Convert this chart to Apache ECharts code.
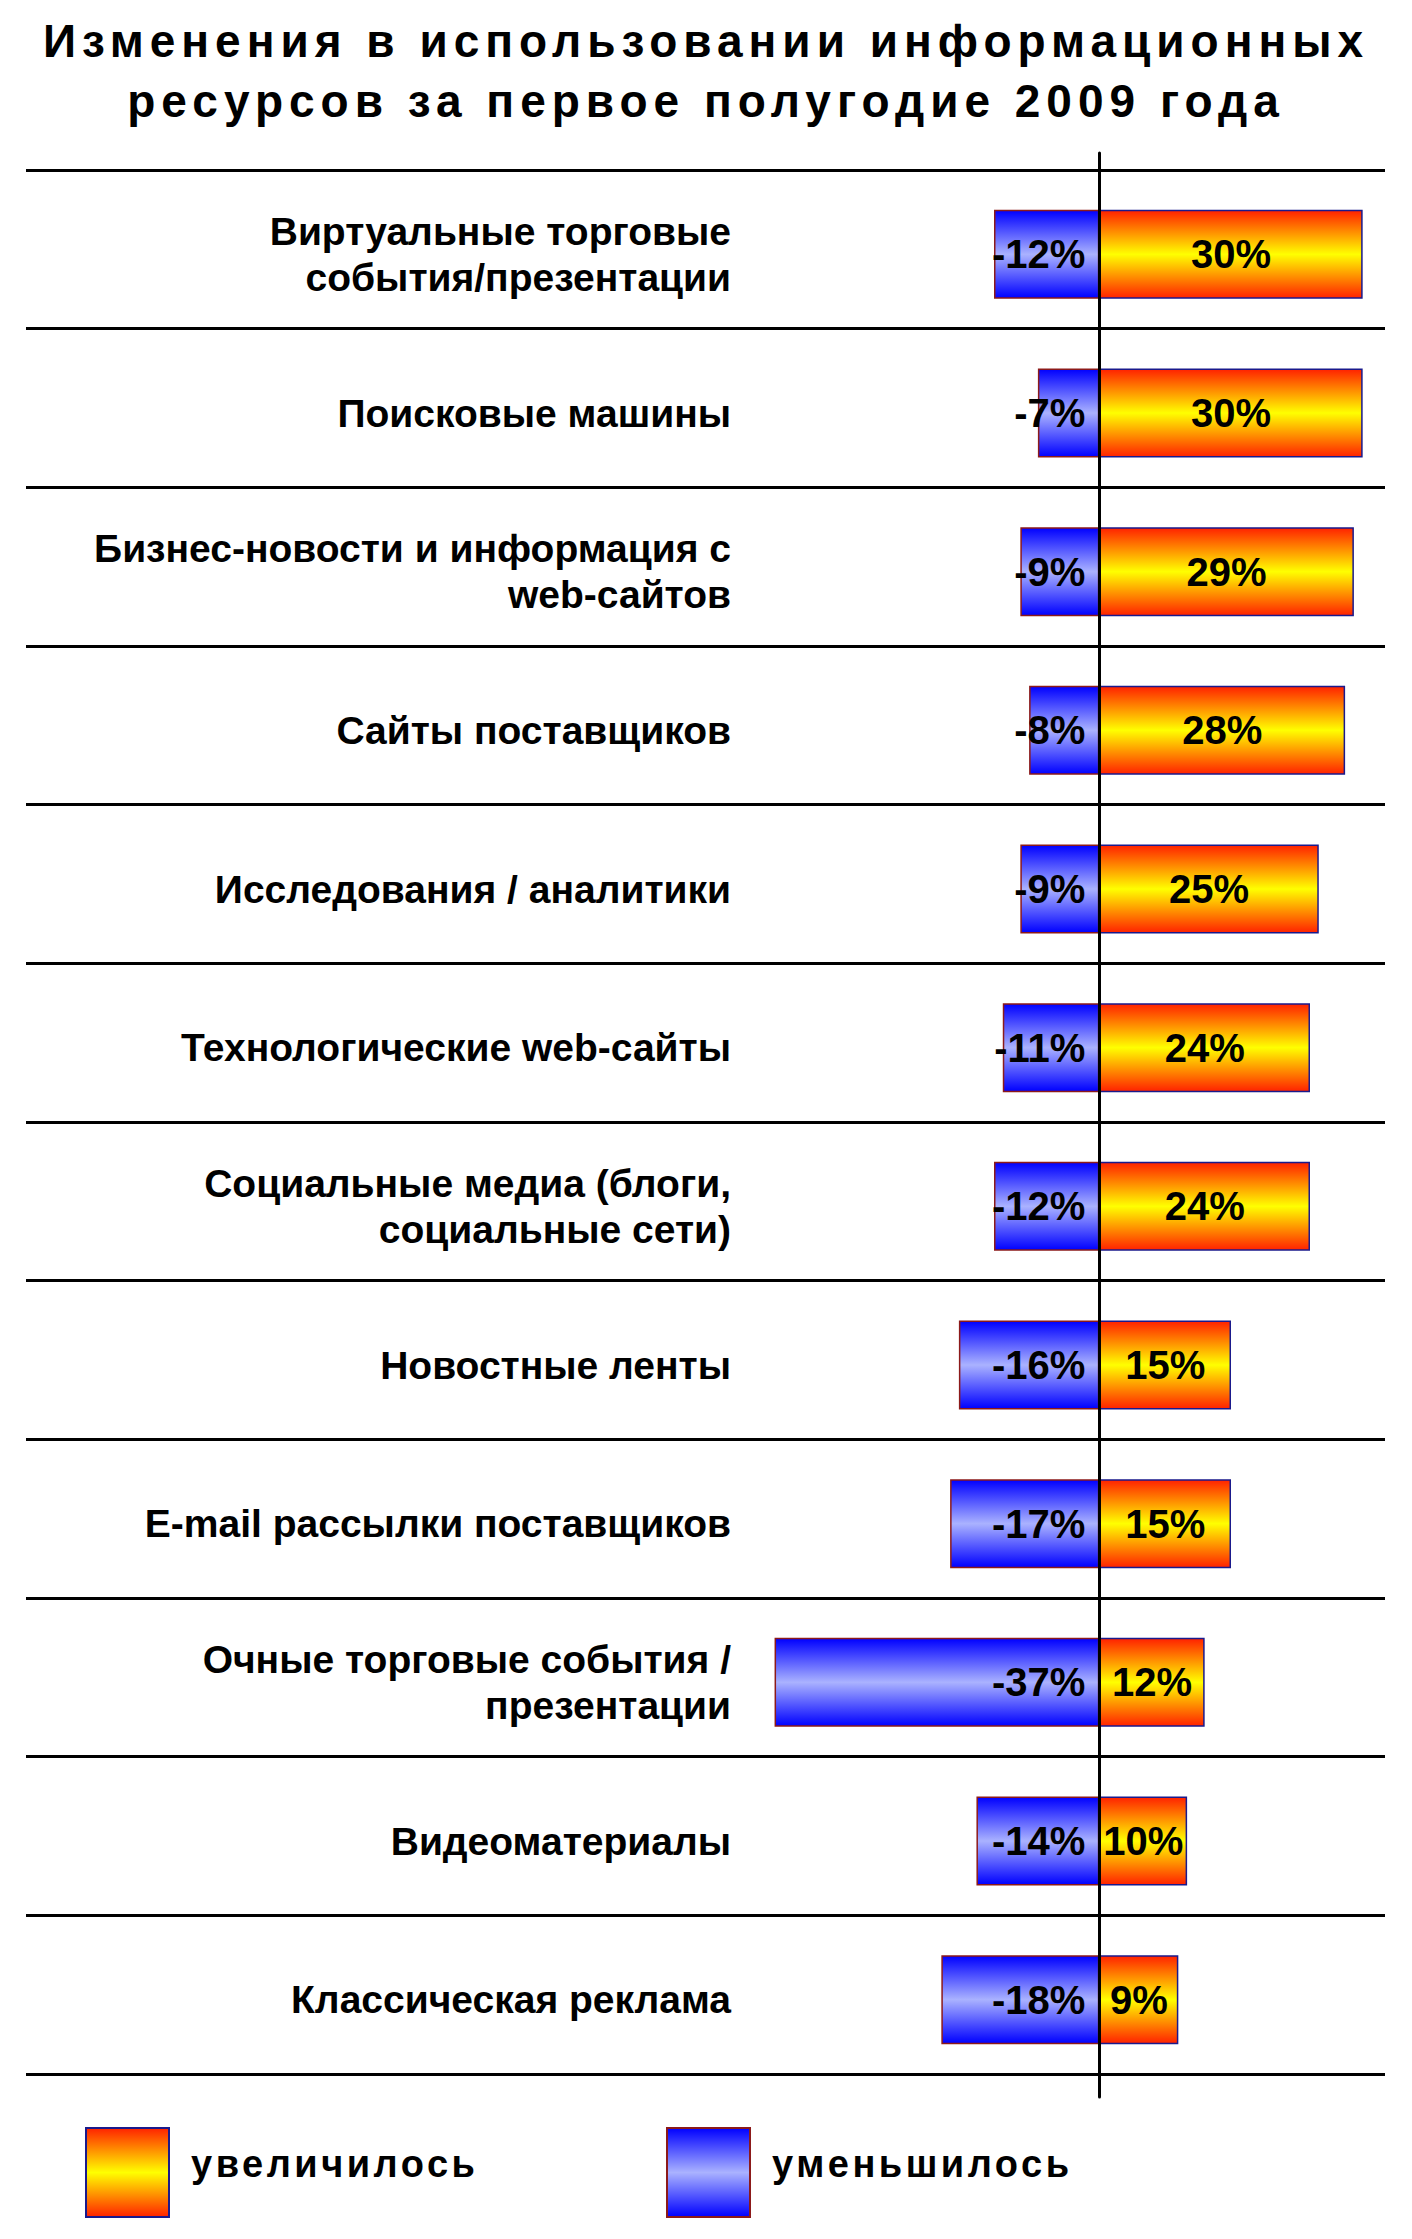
<!DOCTYPE html>
<html>
<head>
<meta charset="utf-8">
<script src="https://cdn.jsdelivr.net/npm/echarts@6/dist/echarts.min.js"></script>
<style>
html,body{margin:0;padding:0;background:#fff;}
#chart{width:1412px;height:2239px;}
</style>
</head>
<body>
<div id="chart"></div>
<script>
// ---- data ----
const titleText = 'Изменения в использовании информационных\nресурсов за первое полугодие 2009 года';
const categories = [
  'Виртуальные торговые\nсобытия/презентации',
  'Поисковые машины',
  'Бизнес-новости и информация с\nweb-сайтов',
  'Сайты поставщиков',
  'Исследования / аналитики',
  'Технологические web-сайты',
  'Социальные медиа (блоги,\nсоциальные сети)',
  'Новостные ленты',
  'E-mail рассылки поставщиков',
  'Очные торговые события /\nпрезентации',
  'Видеоматериалы',
  'Классическая реклама'
];
const increased = [30, 30, 29, 28, 25, 24, 24, 15, 15, 12, 10, 9];
const decreased = [-12, -7, -9, -8, -9, -11, -12, -16, -17, -37, -14, -18];
const seriesNames = ['увеличилось', 'уменьшилось'];

// ---- styling ----
const FONT = '"Liberation Sans", Arial, sans-serif';
const orangeGrad = new echarts.graphic.LinearGradient(0, 0, 0, 1, [
  {offset: 0, color: '#ff2200'},
  {offset: 0.5, color: '#ffff00'},
  {offset: 1, color: '#ff2200'}
]);
const blueGrad = new echarts.graphic.LinearGradient(0, 0, 0, 1, [
  {offset: 0, color: '#0000ff'},
  {offset: 0.5, color: '#aab2ff'},
  {offset: 1, color: '#0000ff'}
]);

const chart = echarts.init(document.getElementById('chart'), null, {renderer: 'svg'});

const gridTop = 170, gridH = 1904;
const legendText = {
  fontFamily: FONT, fontSize: 38, fontWeight: 'bold', color: '#000',
  rich: {a: {fontFamily: FONT, fontSize: 38, fontWeight: 'bold', color: '#000', padding: [0, 0, 18, 17]}}
};
const legendFmt = name => '{a|' + name + '}';
const option = {
  animation: false,
  backgroundColor: '#ffffff',
  title: {
    text: titleText,
    left: 'center',
    top: 6,
    textStyle: {fontFamily: FONT, fontSize: 46, fontWeight: 'bold', color: '#000', lineHeight: 60}
  },
  legend: [
    {
      data: [seriesNames[0]], left: 80, top: 2122, icon: 'rect',
      itemWidth: 83, itemHeight: 89, textStyle: legendText, formatter: legendFmt
    },
    {
      data: [seriesNames[1]], left: 661, top: 2122, icon: 'rect',
      itemWidth: 83, itemHeight: 89, textStyle: legendText, formatter: legendFmt
    }
  ],
  grid: [
    {left: 26, right: 27, top: gridTop, height: gridH},          // separators
    {left: 757, right: 23, top: gridTop + 5, height: gridH},     // bars
    {left: 757, right: 23, top: 153, height: 1944}               // zero line
  ],
  xAxis: [
    {gridIndex: 0, type: 'value', min: 0, max: 1, show: false},
    {gridIndex: 1, type: 'value', min: -39, max: 33, show: false},
    {gridIndex: 2, type: 'value', min: -39, max: 33, show: false}
  ],
  yAxis: [
    {
      gridIndex: 0, type: 'category', data: categories, inverse: true,
      axisLine: {show: false}, axisTick: {show: false}, axisLabel: {show: false},
      splitLine: {show: true, lineStyle: {color: '#000', width: 3}}
    },
    {
      gridIndex: 1, type: 'category', data: categories, inverse: true,
      axisLine: {show: false, onZero: false}, axisTick: {show: false},
      splitLine: {show: false},
      axisLabel: {
        margin: 26, fontFamily: FONT, fontSize: 39, fontWeight: 'bold',
        color: '#000', lineHeight: 46, align: 'right', padding: [14, 0, 0, 0]
      }
    },
    {
      gridIndex: 2, type: 'value', min: 0, max: 1, z: 10,
      axisLine: {show: true, onZero: true, lineStyle: {color: '#000', width: 3}},
      axisTick: {show: false}, axisLabel: {show: false}, splitLine: {show: false}
    }
  ],
  series: [
    {
      name: seriesNames[0], type: 'bar', xAxisIndex: 1, yAxisIndex: 1,
      stack: 'total', barWidth: 89, data: increased,
      itemStyle: {color: orangeGrad, borderColor: '#1a1a8c', borderWidth: 1.5},
      label: {
        show: true, position: 'inside', formatter: p => p.value + '%',
        fontFamily: FONT, fontSize: 40, fontWeight: 'bold', color: '#000'
      }
    },
    {
      name: seriesNames[1], type: 'bar', xAxisIndex: 1, yAxisIndex: 1,
      stack: 'total', barWidth: 89, data: decreased,
      itemStyle: {color: blueGrad, borderColor: '#8c1a1a', borderWidth: 1.5},
      label: {
        show: true, position: 'insideRight', distance: 14, formatter: p => p.value + '%',
        fontFamily: FONT, fontSize: 40, fontWeight: 'bold', color: '#000'
      }
    }
  ]
};
chart.setOption(option);

// letter spacing for title and legend text (SVG renderer)
const titleLines = titleText.split('\n');
function applySpacing() {
  document.querySelectorAll('#chart text').forEach(t => {
    const s = t.textContent;
    if (titleLines.indexOf(s) >= 0) t.setAttribute('letter-spacing', '6');
    else if (seriesNames.indexOf(s) >= 0) t.setAttribute('letter-spacing', '3.5');
  });
}
applySpacing();
chart.on('finished', applySpacing);
</script>
</body>
</html>
